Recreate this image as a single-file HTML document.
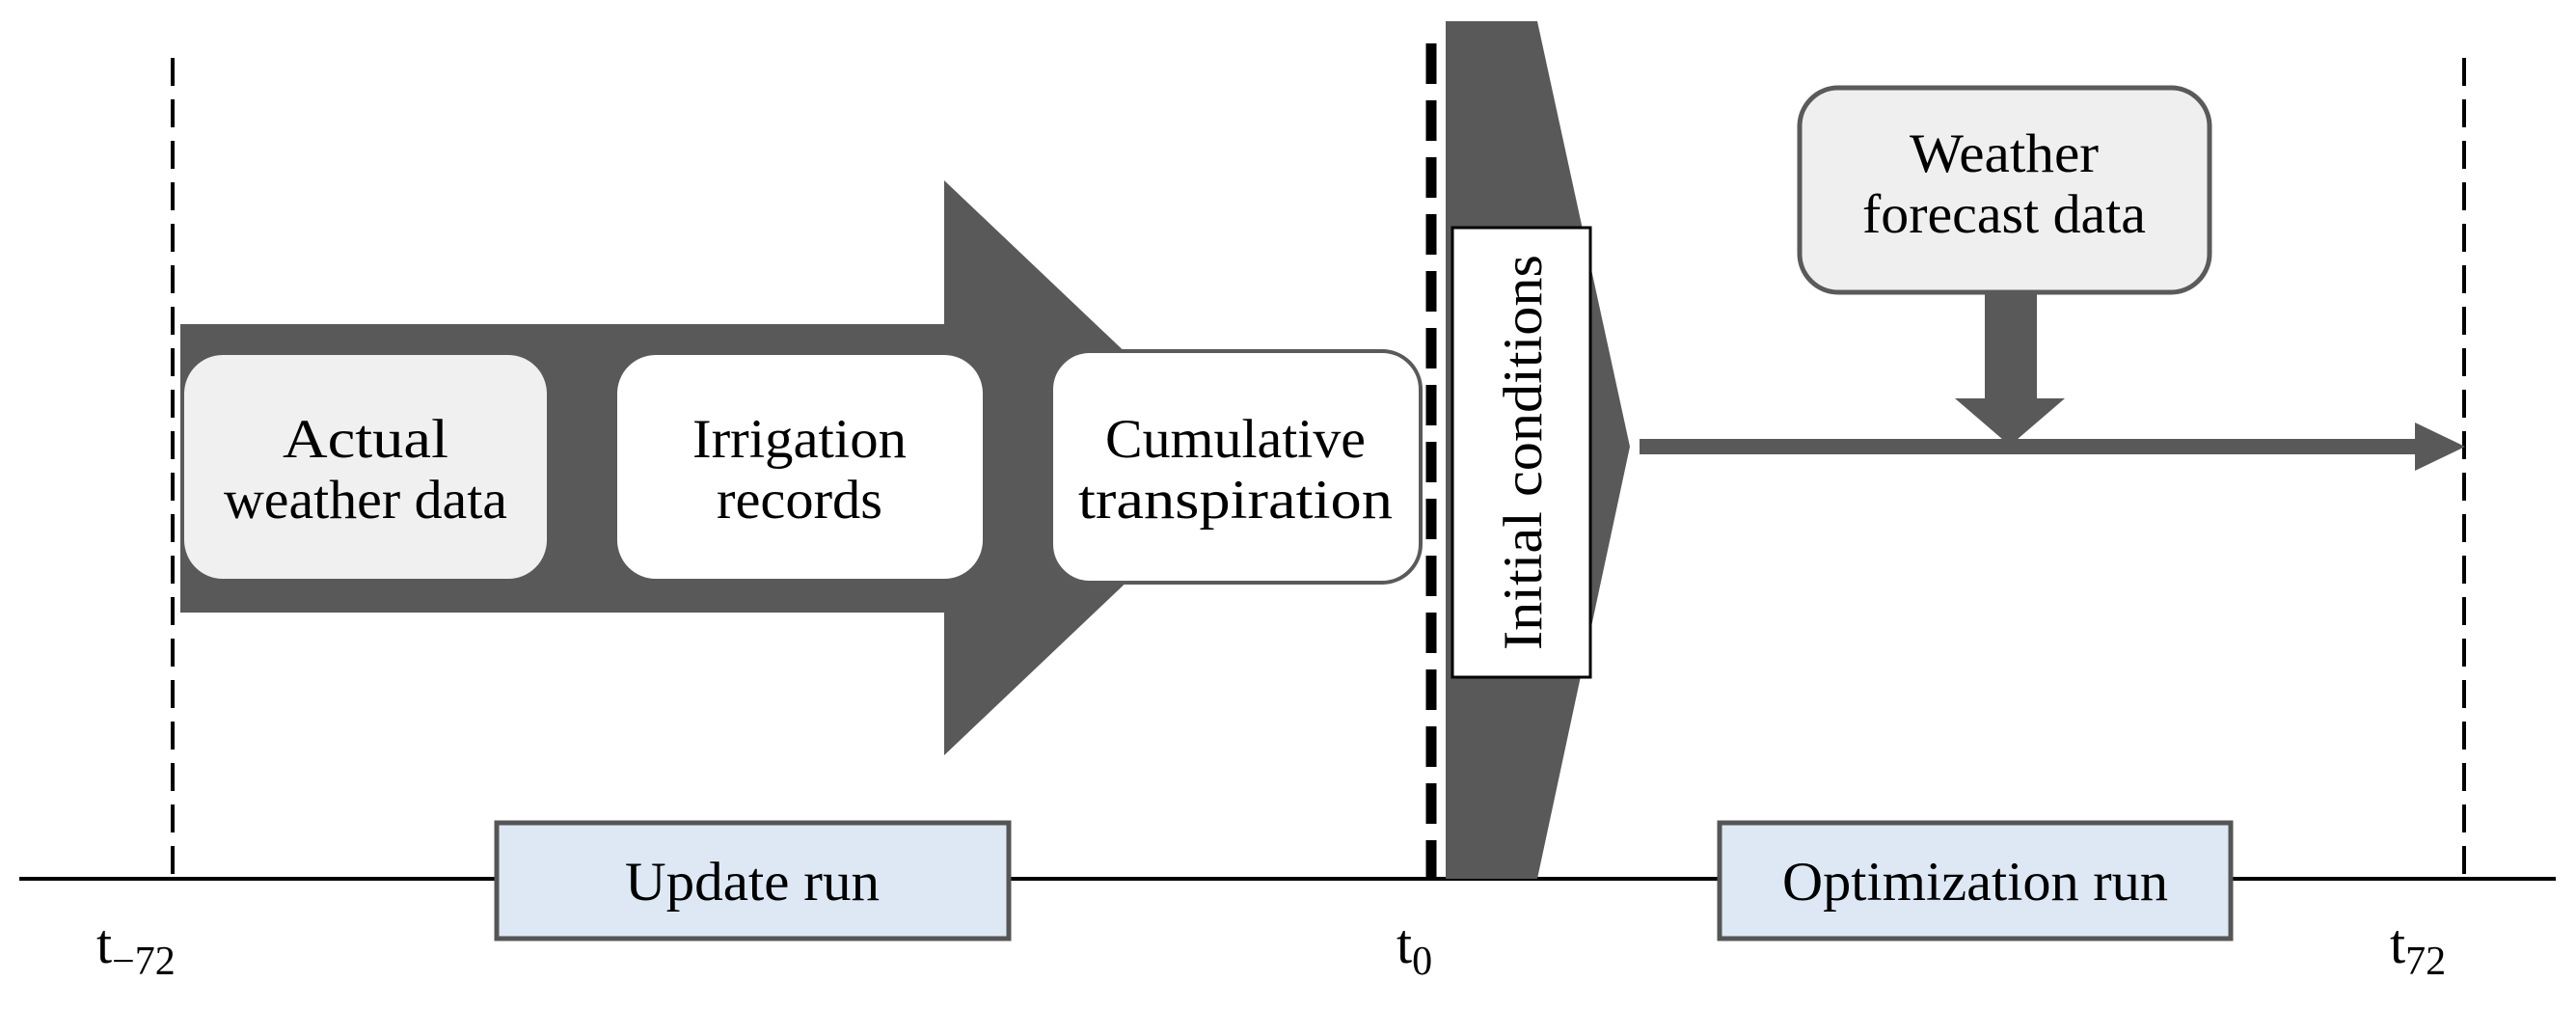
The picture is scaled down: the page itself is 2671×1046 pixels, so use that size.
<!DOCTYPE html>
<html><head><meta charset="utf-8"><style>
html,body{margin:0;padding:0;background:#fff;}
svg{display:block;}
text{font-family:"Liberation Serif",serif;fill:#000;}
</style></head><body>
<svg width="2671" height="1046" viewBox="0 0 2671 1046" xmlns="http://www.w3.org/2000/svg">
<line x1="20" y1="911" x2="2650" y2="911" stroke="#000" stroke-width="4"/>
<line x1="179" y1="60" x2="179" y2="911" stroke="#000" stroke-width="4" stroke-dasharray="29,14"/>
<line x1="2555" y1="60" x2="2555" y2="911" stroke="#000" stroke-width="4" stroke-dasharray="29,14"/>
<line x1="1484" y1="45" x2="1484" y2="911" stroke="#000" stroke-width="11" stroke-dasharray="42,17"/>
<polygon points="187,336 979,336 979,187 1293,485 979,783 979,635 187,635" fill="#595959"/>
<polygon points="1499,22 1594,22 1690,463 1594,911 1499,911" fill="#595959"/>
<rect x="191" y="368" width="376" height="232" rx="40" fill="#f0f0f0"/>
<rect x="640" y="368" width="379" height="232" rx="40" fill="#fff"/>
<rect x="1090" y="364" width="383" height="240" rx="40" fill="#fff" stroke="#5a5a5a" stroke-width="4"/>
<text x="379" y="474" font-size="57" text-anchor="middle" textLength="172" lengthAdjust="spacingAndGlyphs">Actual</text>
<text x="379" y="537" font-size="57" text-anchor="middle" textLength="294" lengthAdjust="spacingAndGlyphs">weather data</text>
<text x="829" y="474" font-size="57" text-anchor="middle" textLength="222" lengthAdjust="spacingAndGlyphs">Irrigation</text>
<text x="829" y="537" font-size="57" text-anchor="middle" textLength="172" lengthAdjust="spacingAndGlyphs">records</text>
<text x="1281" y="474" font-size="57" text-anchor="middle" textLength="270" lengthAdjust="spacingAndGlyphs">Cumulative</text>
<text x="1281" y="537" font-size="57" text-anchor="middle" textLength="326" lengthAdjust="spacingAndGlyphs">transpiration</text>
<rect x="1506" y="236" width="143" height="466" fill="#fff" stroke="#000" stroke-width="3"/>
<text transform="translate(1598,469) rotate(-90)" font-size="57" text-anchor="middle" textLength="410" lengthAdjust="spacingAndGlyphs">Initial conditions</text>
<rect x="1700" y="455" width="812" height="16" fill="#595959"/>
<polygon points="2504,438 2556,463 2504,488" fill="#595959"/>
<rect x="1866" y="91" width="425" height="212" rx="40" fill="#efefef" stroke="#5a5a5a" stroke-width="5"/>
<text x="2078" y="178" font-size="57" text-anchor="middle" textLength="196" lengthAdjust="spacingAndGlyphs">Weather</text>
<text x="2078" y="241" font-size="57" text-anchor="middle" textLength="294" lengthAdjust="spacingAndGlyphs">forecast data</text>
<rect x="2058" y="305" width="54" height="110" fill="#595959"/>
<polygon points="2027,413 2141,413 2084,462" fill="#595959"/>
<rect x="515" y="853" width="531" height="120" fill="#dde8f4" stroke="#555" stroke-width="5"/>
<text x="780" y="933" font-size="57" text-anchor="middle" textLength="264" lengthAdjust="spacingAndGlyphs">Update run</text>
<rect x="1783" y="853" width="530" height="120" fill="#dde8f4" stroke="#555" stroke-width="5"/>
<text x="2048" y="933" font-size="57" text-anchor="middle" textLength="400" lengthAdjust="spacingAndGlyphs">Optimization run</text>
<text x="100" y="998" font-size="58">t<tspan font-size="42" dy="12">−72</tspan></text>
<text x="1448" y="998" font-size="58">t<tspan font-size="42" dy="12">0</tspan></text>
<text x="2478" y="998" font-size="58">t<tspan font-size="42" dy="12">72</tspan></text>
</svg>
</body></html>
